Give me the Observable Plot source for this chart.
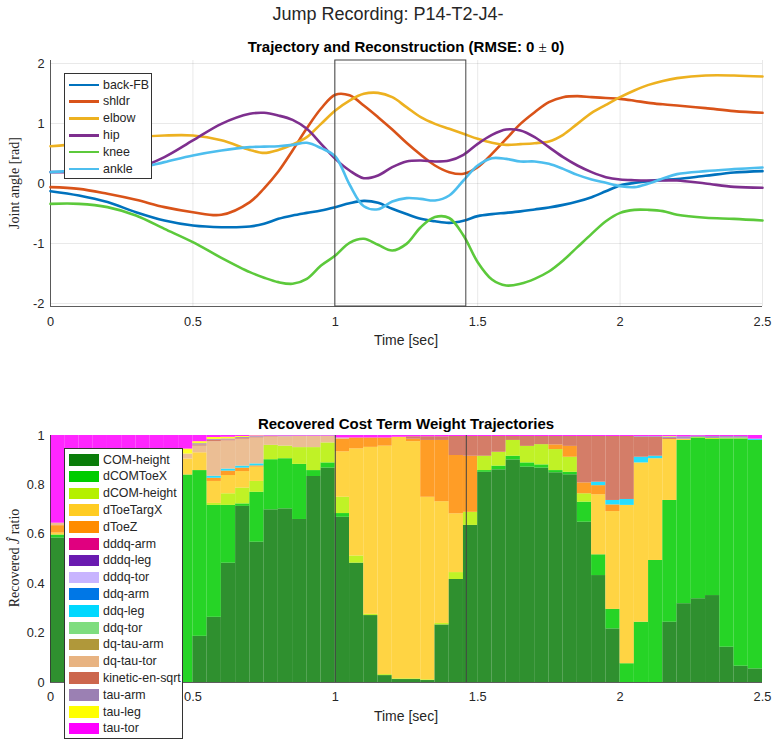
<!DOCTYPE html>
<html>
<head>
<meta charset="utf-8">
<script src="https://cdn.jsdelivr.net/npm/d3@7"></script>
<script src="https://cdn.jsdelivr.net/npm/@observablehq/plot@0.6"></script>
<style>
  html, body { margin: 0; padding: 0; background: #fff; }
  #fig { position: relative; width: 773px; height: 740px; background: #fff;
         font-family: "Liberation Sans", Arial, Helvetica, sans-serif; color: #262626; overflow: hidden; }
  .abs { position: absolute; white-space: nowrap; }
  .ttl { transform: translate(-50%, -50%); }
  .ylab { font-family: "Liberation Serif", "Times New Roman", serif; font-size: 14px;
          transform: translate(-50%, -50%) rotate(-90deg); }
  .legend { position: absolute; background: #fff; border: 1px solid #333; box-sizing: border-box;
            font-size: 12.4px; }
  .legend .row { position: absolute; left: 0; height: 16.8px; display: flex; align-items: center; }
  .legend .sw { position: absolute; left: 4px; width: 30px; }
  .legend .lb { position: absolute; left: 38px; line-height: 16.8px; }
</style>
</head>
<body>
<div id="fig">
  <div id="topPlot" class="abs" style="left:0;top:0"></div>
  <div id="botPlot" class="abs" style="left:0;top:380px"></div>
</div>
<script>
// ---------- Joint angle trajectories (rad) ----------
const angleTimes = [0, 0.1, 0.2, 0.3, 0.4, 0.5, 0.6, 0.7, 0.75, 0.8, 0.85, 0.9, 0.95, 1.0, 1.05, 1.1, 1.15, 1.2, 1.25, 1.3,
  1.35, 1.4, 1.45, 1.5, 1.55, 1.6, 1.65, 1.7, 1.75, 1.8, 1.85, 1.9, 1.95, 2.0, 2.05, 2.1, 2.15, 2.2, 2.3, 2.4, 2.5];
const backFB = [-0.128, -0.2, -0.31, -0.478, -0.617, -0.7, -0.728, -0.717, -0.67, -0.589, -0.533, -0.49, -0.45, -0.394, -0.33, -0.29, -0.32, -0.422, -0.51, -0.589,
  -0.63, -0.656, -0.62, -0.544, -0.51, -0.489, -0.465, -0.433, -0.4, -0.356, -0.3, -0.228, -0.13, -0.033, 0.01, 0.04, 0.06, 0.073, 0.128, 0.183, 0.206];
const shldr = [-0.061, -0.089, -0.172, -0.272, -0.394, -0.478, -0.522, -0.31, -0.08, 0.2, 0.55, 0.92, 1.25, 1.48, 1.47, 1.3, 1.106, 0.9, 0.678, 0.478,
  0.3, 0.189, 0.161, 0.272, 0.494, 0.744, 0.994, 1.189, 1.356, 1.439, 1.456, 1.439, 1.425, 1.411, 1.38, 1.344, 1.32, 1.3, 1.256, 1.206, 1.178];
const elbow = [0.622, 0.661, 0.717, 0.772, 0.8, 0.8, 0.72, 0.56, 0.51, 0.56, 0.65, 0.772, 0.994, 1.217, 1.383, 1.494, 1.511, 1.439, 1.272, 1.106,
  0.994, 0.911, 0.828, 0.744, 0.678, 0.644, 0.656, 0.672, 0.7, 0.811, 0.994, 1.178, 1.311, 1.439, 1.55, 1.644, 1.71, 1.756, 1.8, 1.8, 1.783];
const hip = [0.19, 0.19, 0.2, 0.25, 0.44, 0.717, 0.994, 1.161, 1.178, 1.133, 1.06, 0.911, 0.661, 0.411, 0.217, 0.089, 0.133, 0.272, 0.367, 0.383,
  0.367, 0.383, 0.478, 0.661, 0.811, 0.9, 0.883, 0.772, 0.606, 0.439, 0.3, 0.189, 0.106, 0.067, 0.055, 0.05, 0.05, 0.05, 0, -0.056, -0.072];
const knee = [-0.339, -0.339, -0.394, -0.533, -0.756, -0.978, -1.239, -1.478, -1.57, -1.644, -1.672, -1.589, -1.367, -1.2, -0.989, -0.922, -1.022, -1.117, -1.006, -0.728,
  -0.56, -0.575, -0.867, -1.311, -1.6, -1.7, -1.672, -1.589, -1.467, -1.283, -1.061, -0.839, -0.628, -0.489, -0.439, -0.439, -0.46, -0.522, -0.572, -0.589, -0.617];
const ankle = [0.189, 0.217, 0.24, 0.25, 0.356, 0.467, 0.55, 0.606, 0.615, 0.622, 0.644, 0.678, 0.589, 0.45, -0.017, -0.38, -0.43, -0.3, -0.244, -0.256,
  -0.283, -0.2, 0.05, 0.3, 0.422, 0.411, 0.367, 0.367, 0.328, 0.244, 0.144, 0.067, 0.011, -0.044, -0.061, 0, 0.083, 0.156, 0.206, 0.239, 0.267];

const jointNames = ["back-FB", "shldr", "elbow", "hip", "knee", "ankle"];
const jointColors = ["#0072BD", "#D95319", "#EDB120", "#7E2F8E", "#5cc93b", "#4DBEEE"];
const jointSeries = [backFB, shldr, elbow, hip, knee, ankle];

// Reconstruction window (sec)
const windowSpan = [1.0, 1.46];

// Axis settings
const timeTicks = [0, 0.5, 1, 1.5, 2, 2.5];
const angleDomain = [-2.05, 2.05];
const angleTicks = [-2, -1, 0, 1, 2];
const ratioTicks = [0, 0.2, 0.4, 0.6, 0.8, 1];

// ---------- Recovered cost term weights (ratio per 0.05 s step) ----------
const segStart = [0, 0.05, 0.1, 0.15, 0.2, 0.25, 0.3, 0.35, 0.4, 0.45,
  0.5, 0.55, 0.6, 0.65, 0.7, 0.75, 0.8, 0.85, 0.9, 0.95,
  1.0, 1.05, 1.1, 1.15, 1.2, 1.25, 1.3, 1.35, 1.4, 1.45,
  1.5, 1.55, 1.6, 1.65, 1.7, 1.75, 1.8, 1.85, 1.9, 1.95,
  2.0, 2.05, 2.1, 2.15, 2.2, 2.25, 2.3, 2.35, 2.4, 2.45];
const segWidth = 0.05;

const comHeight = [.585, .58, .56, .5, .42, .3, .18, .08, .02, 0,
  .187, .264, .483, .713, .568, .699, .703, .66, .834, .868,
  .669, .483, .271, .028, .012, .012, .008, .233, .417, .636,
  .851, .861, .901, .872, .868, .849, .841, .649, .433, .217,
  0, 0, 0, .244, .319, .339, .352, .143, .066, .055];
const dComToeX = [.012, .015, .03, .08, .16, .3, .45, .6, .72, .84,
  .671, .453, .234, .01, .202, .203, .203, .223, .024, .021,
  .015, 0, 0, 0, 0, 0, 0, 0, 0, 0,
  .007, .015, .015, .017, .013, .009, .01, .081, .084, .079,
  .076, .244, .494, .493, .661, .651, .632, .843, .92, .925];
const dComHeight = [0, 0, 0, 0, 0, 0, 0, 0, 0, 0,
  0, .008, .047, .064, .044, .058, .051, .068, .093, .081,
  .066, .029, .005, .004, .003, .003, .003, .006, .028, .053,
  .058, .056, .064, .067, .082, .085, .061, .034, 0, 0,
  0, 0, 0, 0, 0, .002, .004, .003, .003, 0];
const dToeTargX = [.008, .01, .015, .02, .03, .04, .05, .06, .06, .065,
  .072, .089, .074, .067, .058, 0, 0, 0, 0, 0,
  .184, .434, .676, .925, .978, .96, .739, .493, .238, 0,
  0, 0, 0, 0, 0, 0, 0, 0, .243, .396,
  .641, .645, .412, .247, .005, 0, 0, 0, 0, 0];
const dToeZ = [.03, .03, .03, .03, .03, .02, .02, .01, 0, 0,
  0, .013, .018, .014, .005, 0, 0, 0, 0, 0,
  .05, .044, .038, .033, 0, .01, .23, .248, .236, .227,
  0, 0, 0, 0, 0, .019, .044, .044, .037, .027,
  0, 0, 0, 0, 0, 0, 0, 0, 0, 0];
const dddqArm = [];
const dddqLeg = [];
const dddqTor = [];
const ddqArm = [];
const ddqLeg = [0, 0, 0, 0, 0, 0, 0, 0, 0, 0,
  0, .008, .008, .008, .008, 0, 0, 0, 0, 0,
  0, 0, 0, 0, 0, 0, 0, 0, 0, 0,
  0, 0, 0, 0, 0, 0, 0, 0, .014, .018,
  .024, .023, .01, 0, 0, 0, 0, 0, 0, .004];
const ddqTor = [];
const dqTauArm = [];
const dqTauTor = [.01, .01, .015, .02, .02, .02, .02, .02, .02, .02,
  .027, .14, .114, .109, .105, .034, .038, .045, .045, .026,
  .006, 0, 0, 0, 0, 0, 0, 0, 0, 0,
  0, 0, 0, 0, 0, 0, 0, 0, 0, 0,
  0, 0, 0, 0, 0, 0, 0, 0, 0, 0];
const kineticEnSqrt = [0, 0, 0, 0, 0, 0, 0, 0, 0, 0,
  .005, .005, .004, .003, .003, .002, 0, 0, 0, 0,
  0, 0, 0, 0, 0, .01, .015, .015, .077, .08,
  .08, .064, .016, .04, .033, .034, .04, .188, .185, .259,
  .255, .081, .077, .004, 0, 0, 0, 0, 0, 0];
const tauArm = [0, 0, 0, 0, 0, 0, 0, 0, 0, 0,
  .005, .004, .004, .004, .003, .002, .003, .002, .002, .002,
  0, 0, 0, 0, 0, 0, 0, 0, 0, 0,
  0, 0, 0, 0, 0, 0, 0, 0, 0, 0,
  0, .003, .003, .006, .01, .005, .008, .007, .007, .002];
const tauLeg = [0, 0, 0, 0, 0, 0, 0, 0, .02, .02,
  .008, .008, .007, .004, .002, 0, 0, 0, 0, 0,
  0, 0, 0, 0, 0, 0, 0, 0, 0, 0,
  0, 0, 0, 0, 0, 0, 0, 0, 0, 0,
  0, 0, 0, .002, 0, 0, 0, 0, 0, 0];
const tauTor = [.355, .355, .35, .35, .34, .32, .28, .23, .16, .055,
  .025, .008, .007, .004, .002, .002, .002, .002, .002, .002,
  .01, .01, .01, .01, .007, .005, .005, .005, .004, .004,
  .004, .004, .004, .004, .004, .004, .004, .004, .004, .004,
  .004, .004, .004, .004, .005, .003, .004, .004, .004, .014];

const termNames = ["COM-height", "dCOMToeX", "dCOM-height", "dToeTargX", "dToeZ", "dddq-arm", "dddq-leg", "dddq-tor",
  "ddq-arm", "ddq-leg", "ddq-tor", "dq-tau-arm", "dq-tau-tor", "kinetic-en-sqrt", "tau-arm", "tau-leg", "tau-tor"];
const termColors = ["#0a7d0a", "#00cc00", "#b5f000", "#ffcc22", "#ff8c00", "#e0007f", "#6a1ab0", "#c8b4ff",
  "#0077e6", "#00d8ff", "#7fdd7f", "#b0983a", "#e8b381", "#cc664d", "#9b80b3", "#ffff00", "#ff00ff"];
const termSeries = [comHeight, dComToeX, dComHeight, dToeTargX, dToeZ, dddqArm, dddqLeg, dddqTor,
  ddqArm, ddqLeg, ddqTor, dqTauArm, dqTauTor, kineticEnSqrt, tauArm, tauLeg, tauTor];

// ---------- Tables for Plot ----------
const angleRows = jointNames.flatMap((name, k) =>
  angleTimes.map((t, i) => ({joint: name, t, v: jointSeries[k][i]})));

const costRows = segStart.flatMap((t0, i) =>
  termNames.map((term, k) => ({term, t0, t1: t0 + segWidth, w: termSeries[k][i] ?? 0}))
    .filter(d => d.w > 0));

const fmt = d => String(d);
const plotStyle = {fontSize: "12.8px", fontFamily: "'Liberation Sans', Arial, Helvetica, sans-serif",
  color: "#262626", background: "transparent", overflow: "visible"};

// ---------- Top: joint angles ----------
const topChart = Plot.plot({
  width: 773, height: 350,
  marginLeft: 50, marginRight: 11, marginTop: 60, marginBottom: 44,
  style: plotStyle,
  x: {domain: [0, 2.5], ticks: timeTicks, tickFormat: fmt, tickSize: 0, tickPadding: 10, grid: true, label: null},
  y: {domain: angleDomain, ticks: angleTicks, tickFormat: fmt, tickSize: 0, tickPadding: 6, grid: true, label: null},
  color: {domain: jointNames, range: jointColors},
  marks: [
    Plot.ruleX([0], {stroke: "#333", strokeWidth: 0.8}),
    Plot.ruleY([angleDomain[0]], {stroke: "#333", strokeWidth: 0.8}),
    Plot.line(angleRows, {x: "t", y: "v", z: "joint", stroke: "joint", curve: "catmull-rom", strokeWidth: 2.6}),
    Plot.rect([windowSpan], {x1: d => d[0], x2: d => d[1], y1: angleDomain[0], y2: angleDomain[1],
      fill: "none", stroke: "#444", strokeWidth: 1})
  ]
});
document.getElementById("topPlot").appendChild(topChart);

// ---------- Bottom: stacked cost term weights ----------
const botChart = Plot.plot({
  width: 773, height: 360,
  marginLeft: 50, marginRight: 11, marginTop: 55, marginBottom: 58,
  style: plotStyle,
  x: {domain: [0, 2.5], ticks: timeTicks, tickFormat: fmt, tickSize: 0, tickPadding: 9, label: null},
  y: {domain: [0, 1], ticks: ratioTicks, tickFormat: fmt, tickSize: 0, tickPadding: 6, label: null},
  color: {domain: termNames, range: termColors},
  marks: [
    Plot.rectY(costRows, {x1: "t0", x2: "t1", y: "w", fill: "term", fillOpacity: 0.85}),
    Plot.ruleX(windowSpan, {stroke: "#444", strokeWidth: 1}),
    Plot.ruleX([0], {stroke: "#333", strokeWidth: 0.8}),
    Plot.ruleY([0], {stroke: "#333", strokeWidth: 0.8})
  ]
});
document.getElementById("botPlot").appendChild(botChart);

// ---------- Titles, axis labels and legends ----------
const fig = document.getElementById("fig");
function addText(html, x, y, cls, style) {
  const el = document.createElement("div");
  el.className = "abs " + cls;
  el.style.left = x + "px";
  el.style.top = y + "px";
  Object.assign(el.style, style || {});
  el.innerHTML = html;
  fig.appendChild(el);
  return el;
}
addText("Jump Recording: P14-T2-J4-", 388, 14, "ttl", {fontSize: "18px"});
addText("Trajectory and Reconstruction (RMSE: 0 <span style=\"font-family:'Liberation Serif',serif;font-weight:normal\">&plusmn;</span> 0)",
  406, 47, "ttl", {fontSize: "15px", fontWeight: "bold", color: "#000"});
addText("Recovered Cost Term Weight Trajectories", 406, 423, "ttl", {fontSize: "15px", fontWeight: "bold", color: "#000"});
addText("Time [sec]", 406, 340, "ttl", {fontSize: "14px"});
addText("Time [sec]", 406, 716, "ttl", {fontSize: "14px"});
addText("Joint angle [rad]", 15, 183, "ylab", {});
addText("Recovered <i>&#308;</i> ratio", 15, 558, "ylab", {});

function addLegend(names, colors, left, top, width, kind) {
  const box = document.createElement("div");
  box.className = "legend";
  box.style.left = left + "px";
  box.style.top = top + "px";
  box.style.width = width + "px";
  box.style.height = (names.length * 16.8 + 5) + "px";
  names.forEach((n, i) => {
    const row = document.createElement("div");
    row.className = "row";
    row.style.top = (2.5 + i * 16.8) + "px";
    row.style.width = width + "px";
    const sw = document.createElement("div");
    sw.className = "sw";
    if (kind === "line") {
      sw.style.height = "2.6px"; sw.style.top = "7.1px"; sw.style.background = colors[i];
    } else {
      sw.style.height = "11.5px"; sw.style.top = "2.6px"; sw.style.background = colors[i];
    }
    const lb = document.createElement("div");
    lb.className = "lb";
    lb.textContent = n;
    row.appendChild(sw); row.appendChild(lb);
    box.appendChild(row);
  });
  fig.appendChild(box);
}
addLegend(jointNames, jointColors, 64, 73, 88, "line");
addLegend(termNames, termColors, 64, 448, 119, "rect");
</script>
</body>
</html>
